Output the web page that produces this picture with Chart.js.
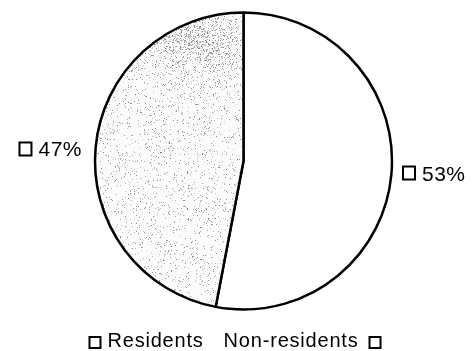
<!DOCTYPE html>
<html><head><meta charset="utf-8">
<script src="https://cdn.jsdelivr.net/npm/chart.js@4/dist/chart.umd.min.js"></script>
<style>html,body{margin:0;padding:0;background:#fff;}canvas{display:block;}</style>
</head><body>
<canvas id="c" width="474" height="351" style="width:474px;height:351px"></canvas>
<script>
// ---- data ----
const categories = ['Residents', 'Non-residents'];
const shares = [53, 47];
const legendBoxSide = ['before', 'after'];

// ---- stipple texture for the shaded slice (deterministic hash, style only) ----
function hash(x, y) {
  let h = Math.imul(x, 73856093) ^ Math.imul(y, 19349663);
  h = Math.imul(h ^ (h >>> 13), 1274126177);
  h ^= h >>> 16;
  return (h >>> 0) / 4294967295;
}
function makeStipple() {
  const c = document.createElement('canvas');
  c.width = 474; c.height = 351;
  const g = c.getContext('2d');
  g.fillStyle = '#fbfbfb';
  g.fillRect(0, 0, 474, 351);
  for (let y = 0; y < 351; y++) {
    for (let x = 0; x < 474; x++) {
      const dx = (x - 195) / 45, dy = (y - 45) / 28;
      const d = 0.07 + 0.25 * Math.exp(-(dx * dx + dy * dy));
      const v = hash(x, y);
      if (v < d) {
        const s = 130 + Math.floor(hash(y + 7, x + 3) * 95);
        g.fillStyle = 'rgb(' + s + ',' + s + ',' + s + ')';
        g.fillRect(x, y, 1, 1);
      }
    }
  }
  return g.createPattern(c, 'no-repeat');
}

const ctx = document.getElementById('c').getContext('2d');
const stipple = makeStipple();

const FONT = '"Liberation Sans", Arial, sans-serif';

const outsideLabels = {
  id: 'outsideLabels',
  afterDatasetsDraw(chart) {
    const c = chart.ctx;
    const meta = chart.getDatasetMeta(0);
    const ds = chart.data.datasets[0].data;
    const total = ds.reduce((a, b) => a + b, 0);
    c.save();
    c.font = '21px ' + FONT;
    c.letterSpacing = '0.5px';
    c.fillStyle = '#000';
    c.strokeStyle = '#000';
    c.lineWidth = 2;
    c.textBaseline = 'alphabetic';
    meta.data.forEach((arc, i) => {
      const p = arc.getProps(['x', 'y', 'startAngle', 'endAngle', 'outerRadius'], true);
      const mid = (p.startAngle + p.endAngle) / 2;
      const txt = Math.round(ds[i] / total * 100) + '%';
      const tw = c.measureText(txt).width;
      const cy = p.y + Math.sin(mid) * p.outerRadius * 0.86;
      const box = 14, gap = 6;
      let x0;
      if (Math.cos(mid) >= 0) x0 = p.x + p.outerRadius + 10;
      else x0 = p.x - p.outerRadius - 13 - tw - gap - box;
      c.strokeRect(x0 + 1, cy - 6.5, box - 2, 13);
      c.textAlign = 'left';
      c.fillText(txt, x0 + box + gap, cy + 7.5);
    });
    // custom legend
    c.font = '20px ' + FONT;
    c.letterSpacing = '0.8px';
    const labels = chart.data.labels;
    const widths = labels.map(l => c.measureText(l).width);
    const box = 13, gapB = [6, 10], itemGap = 20;
    let total2 = 0;
    labels.forEach((l, i) => { total2 += widths[i] + box + gapB[i]; });
    total2 += itemGap * (labels.length - 1);
    let x = 235 - total2 / 2;
    const baseY = 347, boxMid = 342.5;
    labels.forEach((l, i) => {
      if (legendBoxSide[i] === 'before') {
        c.strokeRect(x + 1, boxMid - 5.5, box - 2, 11);
        x += box + gapB[i];
        c.fillText(l, x, baseY);
        x += widths[i];
      } else {
        c.fillText(l, x, baseY);
        x += widths[i] + gapB[i];
        c.strokeRect(x + 1, boxMid - 5.5, box - 2, 11);
        x += box;
      }
      x += itemGap;
    });
    c.restore();
  }
};

new Chart(ctx, {
  type: 'pie',
  data: {
    labels: categories,
    datasets: [{
      data: shares,
      backgroundColor: ['#ffffff', stipple],
      borderColor: '#000000',
      borderWidth: 2.5,
      hoverOffset: 0
    }]
  },
  options: {
    responsive: false,
    animation: false,
    radius: 148.5,
    layout: { padding: { left: 20, right: 7, top: 5, bottom: 34 } },
    plugins: { legend: { display: false }, tooltip: { enabled: false } }
  },
  plugins: [outsideLabels]
});
</script>
</body></html>
